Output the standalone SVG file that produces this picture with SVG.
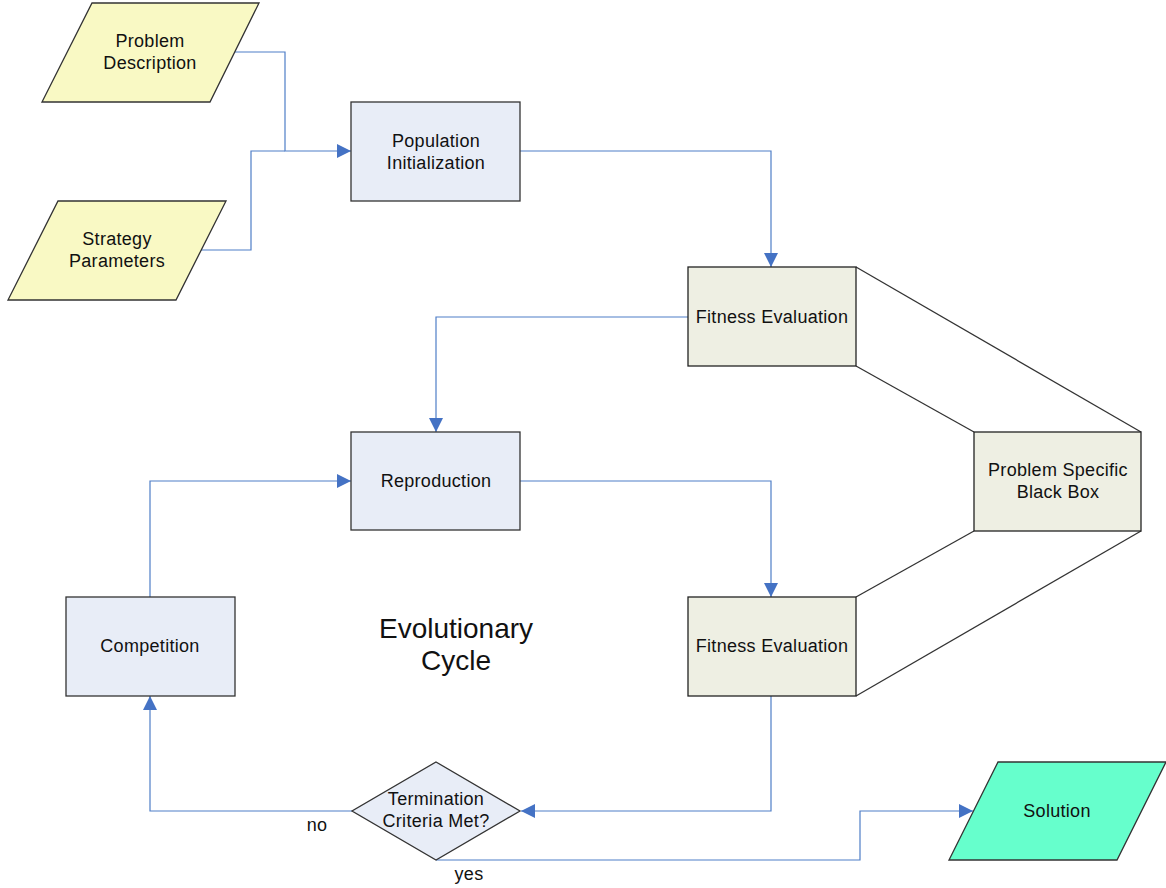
<svg xmlns="http://www.w3.org/2000/svg" width="1166" height="888" viewBox="0 0 1166 888">
<style>
text{font-family:"Liberation Sans",Arial,sans-serif;font-size:18px;letter-spacing:0.3px;fill:#111;text-anchor:middle}
.yel{fill:#F9F9C4;stroke:#333;stroke-width:1.3}
.blu{fill:#E8EDF7;stroke:#333;stroke-width:1.3}
.fit{fill:#EEEFE3;stroke:#222;stroke-width:1.3}
.sol{fill:#66FFCC;stroke:#333;stroke-width:1.3}
.con{fill:none;stroke:#4F7EC7;stroke-width:1.2}
.blk{fill:none;stroke:#333;stroke-width:1.3}
.big{font-size:28px;letter-spacing:0}
</style>
<defs>
<marker id="arr" viewBox="0 0 10 10" refX="10" refY="5" markerWidth="14" markerHeight="14" markerUnits="userSpaceOnUse" orient="auto">
<path d="M0,0 L10,5 L0,10 z" fill="#4472C4"/>
</marker>
</defs>
<rect width="1166" height="888" fill="#fff"/>
<g id="connectors">
<polyline class="con" points="235,52 285,52 285,151 351,151" marker-end="url(#arr)"/>
<polyline class="con" points="201,250 251,250 251,151 285,151"/>
<polyline class="con" points="520,151 771,151 771,267" marker-end="url(#arr)"/>
<polyline class="con" points="688,317 436,317 436,432" marker-end="url(#arr)"/>
<polyline class="con" points="520,481 771,481 771,597" marker-end="url(#arr)"/>
<polyline class="con" points="150,597 150,481 351,481" marker-end="url(#arr)"/>
<polyline class="con" points="771,696 771,811 521,811" marker-end="url(#arr)"/>
<polyline class="con" points="352,811 150,811 150,696" marker-end="url(#arr)"/>
<polyline class="con" points="436,860 860,860 860,811 973,811" marker-end="url(#arr)"/>
<line class="blk" x1="856" y1="267" x2="1141" y2="432"/>
<line class="blk" x1="856" y1="366" x2="974" y2="432"/>
<line class="blk" x1="974" y1="531" x2="856" y2="597"/>
<line class="blk" x1="1141" y1="531" x2="856" y2="696"/>
<text x="317" y="831">no</text>
<text x="469" y="880">yes</text>
</g>
<g id="problem-description">
<polygon class="yel" points="92,3 259,3 210,102 42,102"/>
<text x="150" y="47">Problem</text>
<text x="150" y="69">Description</text>
</g>
<g id="strategy-parameters">
<polygon class="yel" points="58,201 226,201 176,300 8,300"/>
<text x="117" y="245">Strategy</text>
<text x="117" y="267">Parameters</text>
</g>
<g id="population-initialization">
<rect class="blu" x="351" y="102" width="169" height="99"/>
<text x="436" y="147">Population</text>
<text x="436" y="169">Initialization</text>
</g>
<g id="fitness-evaluation-1">
<rect class="fit" x="688" y="267" width="168" height="99"/>
<text x="772" y="323">Fitness Evaluation</text>
</g>
<g id="black-box">
<rect class="fit" x="974" y="432" width="167" height="99"/>
<text x="1058" y="476">Problem Specific</text>
<text x="1058" y="498">Black Box</text>
</g>
<g id="reproduction">
<rect class="blu" x="351" y="432" width="169" height="98"/>
<text x="436" y="487">Reproduction</text>
</g>
<g id="fitness-evaluation-2">
<rect class="fit" x="688" y="597" width="168" height="99"/>
<text x="772" y="652">Fitness Evaluation</text>
</g>
<g id="competition">
<rect class="blu" x="66" y="597" width="169" height="99"/>
<text x="150" y="652">Competition</text>
</g>
<g id="termination">
<polygon class="blu" points="436,762 520,811 436,860 352,811"/>
<text x="436" y="805">Termination</text>
<text x="436" y="827">Criteria Met?</text>
</g>
<g id="solution">
<polygon class="sol" points="998,762 1166,762 1117,860 949,860"/>
<text x="1057" y="817">Solution</text>
</g>
<g id="label-evolutionary-cycle">
<text class="big" x="456" y="638">Evolutionary</text>
<text class="big" x="456" y="670">Cycle</text>
</g>
</svg>
